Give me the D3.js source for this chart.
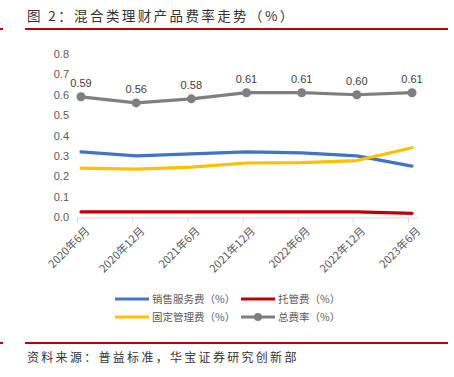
<!DOCTYPE html>
<html>
<head>
<meta charset="utf-8">
<title>混合类理财产品费率走势</title>
<script src="https://cdn.jsdelivr.net/npm/d3@7/dist/d3.min.js"></script>
<style>
body { margin: 0; background: #fff; }
svg { display: block; }
</style>
</head>
<body>
<svg id="chart" width="454" height="377"></svg>
<script>
// data
var periods = ["2020年6月", "2020年12月", "2021年6月", "2021年12月", "2022年6月", "2022年12月", "2023年6月"];
var salesFee = [0.32, 0.30, 0.31, 0.32, 0.315, 0.30, 0.25];
var custodyFee = [0.025, 0.025, 0.025, 0.025, 0.025, 0.025, 0.018];
var mgmtFee = [0.24, 0.235, 0.245, 0.265, 0.267, 0.277, 0.34];
var totalFee = [0.59, 0.56, 0.58, 0.61, 0.61, 0.60, 0.61];
var yTicks = [0, 0.1, 0.2, 0.3, 0.4, 0.5, 0.6, 0.7, 0.8];

var series = [
  {name: "销售服务费（%）", values: salesFee, color: "#4472c4", dot: false},
  {name: "托管费（%）", values: custodyFee, color: "#c00000", dot: false},
  {name: "固定管理费（%）", values: mgmtFee, color: "#ffc000", dot: false},
  {name: "总费率（%）", values: totalFee, color: "#7f7f7f", dot: true}
];

var svg = d3.select("#chart");
var cjk = "'Noto Sans CJK SC', sans-serif";
var lat = "'Liberation Sans', Arial, sans-serif";

// header
svg.append("text").attr("x", 27).attr("y", 21)
  .attr("font-family", cjk).attr("font-size", 13.5).attr("fill", "#333")
  .attr("letter-spacing", 2.4)
  .text("图 2：混合类理财产品费率走势（%）");
svg.append("rect").attr("x", 25).attr("y", 28).attr("width", 423).attr("height", 2).attr("fill", "#c00000");
svg.append("rect").attr("x", 0).attr("y", 28).attr("width", 3).attr("height", 2).attr("fill", "#c00000");

var x = d3.scalePoint().domain(periods).range([77, 408]);
var y = d3.scaleLinear().domain([0, 0.8]).range([217, 54]);
var shift = 4;

// y labels
svg.append("g").selectAll("text").data(yTicks).enter().append("text")
  .attr("x", 69).attr("y", function(d) { return y(d) + 4; })
  .attr("text-anchor", "end").attr("font-family", lat).attr("font-size", 11).attr("fill", "#595959")
  .text(function(d) { return d.toFixed(1); });

// x axis
var xAxis = svg.append("g").attr("transform", "translate(0,218)")
  .call(d3.axisBottom(x).tickSize(5).tickSizeOuter(0));
xAxis.select(".domain").attr("stroke", "#d9d9d9").attr("d", "M77,0H417");
xAxis.selectAll(".tick line").attr("stroke", "#d9d9d9");
xAxis.selectAll(".tick text")
  .attr("font-family", cjk).attr("font-size", 11).attr("fill", "#595959")
  .attr("text-anchor", "end")
  .attr("transform", "translate(10,11) rotate(-45)")
  .attr("dx", 0).attr("dy", "0.35em").attr("y", 0);

var line = d3.line()
  .x(function(d, i) { return x(periods[i]) + shift; })
  .y(function(d) { return y(d); });

series.forEach(function(s) {
  svg.append("path").datum(s.values)
    .attr("d", line).attr("fill", "none")
    .attr("stroke", s.color).attr("stroke-width", 3.2)
    .attr("stroke-linejoin", "round").attr("stroke-linecap", "round");
  if (s.dot) {
    svg.append("g").selectAll("circle").data(s.values).enter().append("circle")
      .attr("cx", function(d, i) { return x(periods[i]) + shift; })
      .attr("cy", function(d) { return y(d); })
      .attr("r", 4.5).attr("fill", s.color);
    svg.append("g").selectAll("text").data(s.values).enter().append("text")
      .attr("x", function(d, i) { return x(periods[i]) + shift; })
      .attr("y", function(d) { return y(d) - 10; })
      .attr("text-anchor", "middle").attr("font-family", lat).attr("font-size", 11).attr("fill", "#404040")
      .text(function(d) { return d.toFixed(2); });
  }
});

// legend
var legend = svg.append("g").selectAll("g").data(series).enter().append("g")
  .attr("transform", function(d, i) {
    return "translate(" + (i % 2 ? 241 : 115) + "," + (i < 2 ? 299 : 317) + ")";
  });
legend.append("line").attr("x1", 0).attr("x2", 34).attr("y1", 0).attr("y2", 0)
  .attr("stroke", function(d) { return d.color; }).attr("stroke-width", 3.2);
legend.filter(function(d) { return d.dot; }).append("circle")
  .attr("cx", 17).attr("cy", 0).attr("r", 4).attr("fill", function(d) { return d.color; });
legend.append("text").attr("x", 37).attr("y", 4)
  .attr("font-family", cjk).attr("font-size", 10.5).attr("fill", "#595959")
  .text(function(d) { return d.name; });

// footer
svg.append("rect").attr("x", 25).attr("y", 342).attr("width", 423).attr("height", 2).attr("fill", "#c00000");
svg.append("rect").attr("x", 0).attr("y", 342).attr("width", 3).attr("height", 2).attr("fill", "#c00000");
svg.append("text").attr("x", 27).attr("y", 362)
  .attr("font-family", cjk).attr("font-size", 12).attr("fill", "#333")
  .attr("letter-spacing", 2.3)
  .text("资料来源：普益标准，华宝证券研究创新部");
</script>
</body>
</html>
